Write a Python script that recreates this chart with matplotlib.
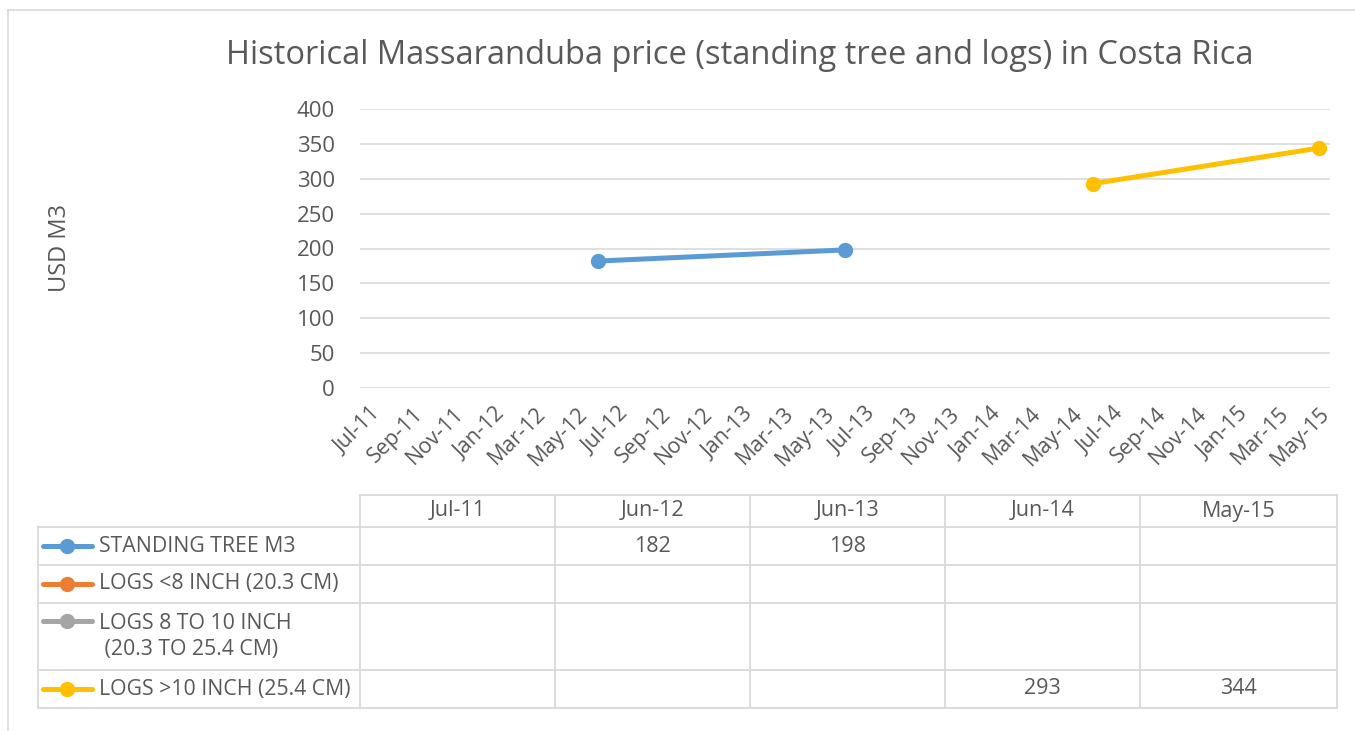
import matplotlib
matplotlib.use("Agg")
import matplotlib.pyplot as plt
import matplotlib.dates as mdates
import numpy as np
from datetime import datetime, timedelta

# data
dates = ["Jul-11", "Jun-12", "Jun-13", "Jun-14", "May-15"]
series_names = ["STANDING TREE M3", "LOGS <8 INCH (20.3 CM)",
                "LOGS 8 TO 10 INCH\n (20.3 TO 25.4 CM)", "LOGS >10 INCH (25.4 CM)"]
standing_tree = [np.nan, 182, 198, np.nan, np.nan]
logs_lt8 = [np.nan, np.nan, np.nan, np.nan, np.nan]
logs_8_10 = [np.nan, np.nan, np.nan, np.nan, np.nan]
logs_gt10 = [np.nan, np.nan, np.nan, 293, 344]
colors = ["#5b9bd5", "#ed7d31", "#a5a5a5", "#ffc000"]

plt.rcParams['font.family'] = ['Open Sans', 'DejaVu Sans']
txt = "#595959"
grid = "#d9d9d9"

W, H = 1355, 731
fig = plt.figure(figsize=(W / 100, H / 100), dpi=100)

def fx(px):
    return px / W

def fy(py):
    return 1 - py / H

# chart border
fig.add_artist(plt.Line2D([fx(8), fx(8)], [fy(10), fy(731)], color=grid, lw=1.2))
fig.add_artist(plt.Line2D([fx(8), fx(1355)], [fy(10), fy(10)], color=grid, lw=1.2))

ax = fig.add_axes([fx(360), fy(388), fx(1330) - fx(360), fy(109) - fy(388)])
x = [datetime.strptime(d, "%b-%y") for d in dates]
all_series = [standing_tree, logs_lt8, logs_8_10, logs_gt10]
for vals, c in zip(all_series, colors):
    ax.plot(x, vals, color=c, lw=3.6, marker='o', markersize=10, solid_capstyle='round')

ax.set_ylim(0, 400)
ax.set_yticks(range(0, 401, 50))
ax.set_xlim(x[0] - timedelta(days=15), x[-1] + timedelta(days=16))
ax.xaxis.set_major_locator(mdates.MonthLocator(bymonth=[1, 3, 5, 7, 9, 11]))
ax.xaxis.set_major_formatter(mdates.DateFormatter("%b-%y"))
ax.grid(axis='y', color=grid, lw=1.2)
ax.set_axisbelow(True)
for s in ax.spines.values():
    s.set_visible(False)
ax.tick_params(length=0, labelsize=15.5, labelcolor=txt)
ax.tick_params(axis='y', pad=18, labelsize=16)
ax.tick_params(axis='x', pad=11)
for lab in ax.get_xticklabels():
    lab.set_rotation(45)
    lab.set_ha('right')
    lab.set_rotation_mode('anchor')

fig.text(fx(740), fy(55), "Historical Massaranduba price (standing tree and logs) in Costa Rica",
         ha='center', va='center', fontsize=23.5, color=txt)
fig.text(fx(60), fy(248), "USD M3", rotation=90, ha='center', va='center', fontsize=17, color=txt)

# data table
col_edges = [38, 360, 555, 750, 945, 1140, 1337]
row_edges = [495, 527, 565, 603, 670, 708]
tab = fig.add_axes([0, 0, 1, 1])
tab.set_xlim(0, W)
tab.set_ylim(H, 0)
tab.axis('off')
lw = 1.3
# horizontal lines
tab.plot([col_edges[1], col_edges[-1]], [row_edges[0]] * 2, color=grid, lw=lw)
for ry in row_edges[1:]:
    tab.plot([col_edges[0], col_edges[-1]], [ry, ry], color=grid, lw=lw)
tab.plot([col_edges[0]] * 2, [row_edges[1], row_edges[-1]], color=grid, lw=lw)
for cx in col_edges[1:]:
    tab.plot([cx, cx], [row_edges[0], row_edges[-1]], color=grid, lw=lw)

for j, d in enumerate(dates):
    cx = (col_edges[j + 1] + col_edges[j + 2]) / 2
    tab.text(cx, (row_edges[0] + row_edges[1]) / 2, d, ha='center', va='center', fontsize=15.5, color=txt)

for i, (name, vals, c) in enumerate(zip(series_names, all_series, colors)):
    y0, y1 = row_edges[i + 1], row_edges[i + 2]
    ymid = (y0 + y1) / 2
    ykey = ymid if "\n" not in name else y0 + 18
    tab.plot([43, 92], [ykey, ykey], color=c, lw=3.6, solid_capstyle='round')
    tab.plot([67], [ykey], color=c, marker='o', markersize=10)
    tab.text(99, ymid, name, ha='left', va='center', fontsize=15.3, color=txt, linespacing=1.3)
    for j, v in enumerate(vals):
        if not np.isnan(v):
            cx = (col_edges[j + 1] + col_edges[j + 2]) / 2
            tab.text(cx, ymid, f"{v:g}", ha='center', va='center', fontsize=15.5, color=txt)

fig.savefig("out.png", dpi=100)
